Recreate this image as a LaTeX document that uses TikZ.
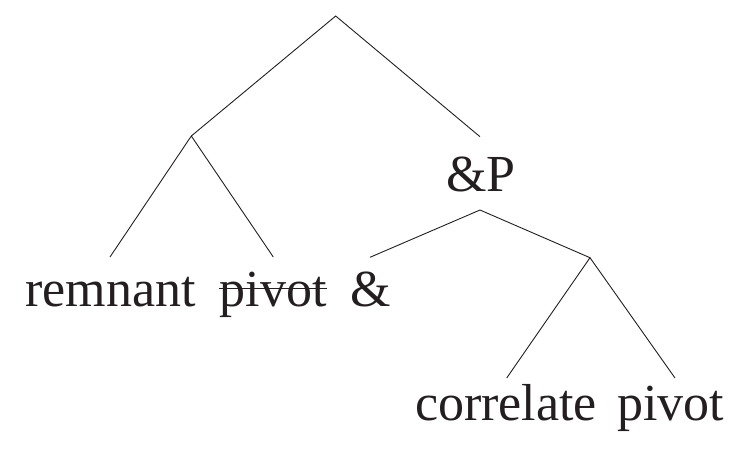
\documentclass[tikz,border=0pt]{standalone}
\usepackage{fontspec}
\setmainfont{Liberation Serif}
\usepackage{tikz}
\usetikzlibrary{positioning}
\definecolor{ink}{RGB}{35,31,32}

\begin{document}
\begin{tikzpicture} [ink, x = 0.5pt, y = -0.5pt, line width = 0.45pt,
			word/.style = {inner sep = 0pt, anchor = base, font = \fontsize{26}{30}\selectfont}]
			% Frame of the picture
			\useasboundingbox (0,0) rectangle (735,452);

			% Branching points
			\coordinate (top) at (335.7,16);
			\coordinate (lft) at (191.3,136);
			\coordinate (rgt) at (480,136.7);
			\coordinate (ptop) at (480,210);
			\coordinate (prgt) at (590,257.7);

			% Lower ends of the branches
			\coordinate (rem) at (110,257);
			\coordinate (piv) at (273.3,257);
			\coordinate (amp) at (370,257.3);
			\coordinate (cor) at (506.7,378);
			\coordinate (piv2) at (675,378);

			% Labels
			\node (andP) [word] at (481,191.7) {\&P};
			\node (remnant) [word] at (110.5,306) {remnant};
			\node (pivot) [word] at (273,306) {pivot};
			\node (and) [word] at (371,306) {\&};
			\node (correlate) [word] at (506,420.7) {correlate};
			\node (pivot2) [word] at (670.5,420.7) {pivot};

			% Draw branches
			\draw (lft) -- (top) -- (rgt);
			\draw (rem) -- (lft) -- (piv);
			\draw (amp) -- (ptop) -- (prgt);
			\draw (cor) -- (prgt) -- (piv2);

			% Strike through the first pivot
			\draw [line width = 0.8pt] ([yshift = 8.7pt] pivot.base west) -- ([yshift = 8.7pt] pivot.base east);
		\end{tikzpicture}
\end{document}
